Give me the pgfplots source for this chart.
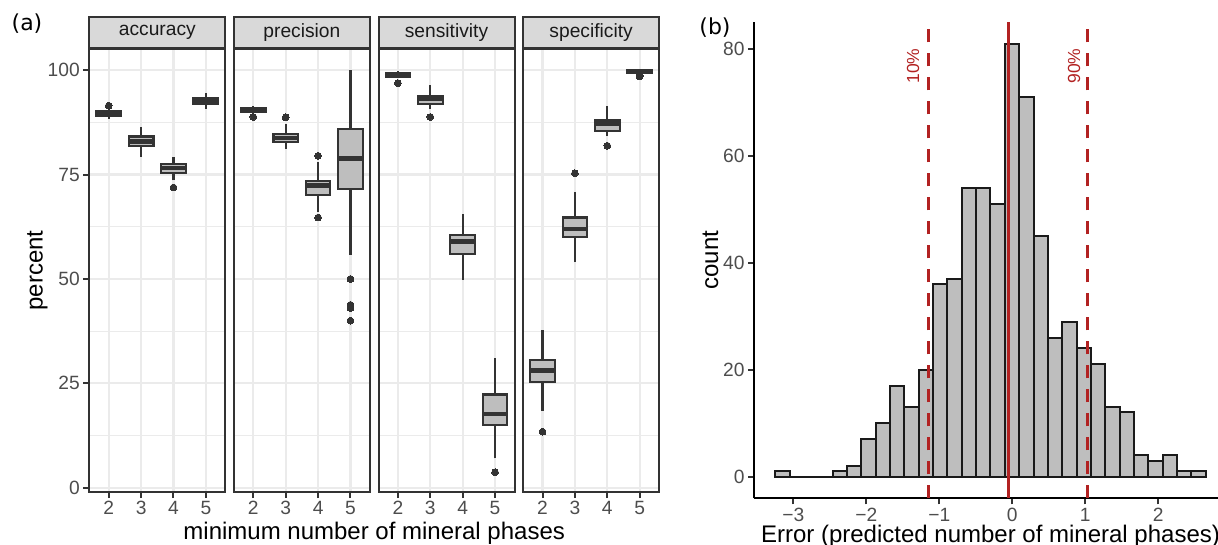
\documentclass[border=0pt]{standalone}
\usepackage{pgfplots}
\pgfplotsset{compat=1.18}
\usepackage{fontspec}
\setmainfont{Liberation Sans}
\newfontfamily\dejavu{DejaVu Sans}
\definecolor{gr10}{HTML}{1A1A1A}
\definecolor{gr20}{HTML}{333333}
\definecolor{gr30}{HTML}{4D4D4D}
\definecolor{gr85}{HTML}{D9D9D9}
\definecolor{gr92}{HTML}{EBEBEB}
\definecolor{boxfill}{HTML}{BEBEBE}
\definecolor{firebrick}{HTML}{B22222}
\pgfplotsset{
  facet/.style={
    anchor=north west, scale only axis, width=136pt, height=442.7pt,
    xmin=1.4, xmax=5.6, ymin=-1.03, ymax=105,
    xtick={2,3,4,5}, xticklabels={2,3,4,5},
    ytick={0,25,50,75,100}, yticklabels={0,25,50,75,100},
    minor ytick={12.5,37.5,62.5,87.5},
    grid=both,
    major grid style={draw=gr92, line width=2.2pt},
    minor grid style={draw=gr92, line width=1.1pt},
    minor tick length=0pt, major tick length=6pt, tick align=outside,
    xtick pos=bottom, ytick pos=left,
    axis line style={draw=gr20, line width=2pt},
    tick style={draw=gr20, line width=2pt},
    tick label style={font=\fontsize{19.2}{22}\selectfont, text=gr30},
    every axis title shift=0pt,
    title style={at={(0.5,1)}, anchor=south, fill=gr85, draw=gr20, line width=2pt,
      minimum width=136pt, minimum height=31pt, inner sep=0pt,
      font=\fontsize{19.2}{22}\selectfont, text=gr10},
  },
  outl/.style={only marks, mark=*, mark size=3.4pt, color=gr20, mark options={fill=gr20, draw=gr20, line width=0pt}},
}
% #1 position, #2 box left, #3 box right, #4 lower whisker, #5 q1, #6 median, #7 q3, #8 upper whisker
\newcommand{\bxp}[8]{%
  \addplot[gr20, line width=2.2pt, no marks] coordinates {(#1,#4) (#1,#5)};
  \addplot[gr20, line width=2.2pt, no marks] coordinates {(#1,#7) (#1,#8)};
  \addplot[draw=gr20, fill=boxfill, line width=2.2pt, no marks] coordinates {(#2,#5) (#3,#5) (#3,#7) (#2,#7)} -- cycle;
  \addplot[gr20, line width=4.4pt, no marks] coordinates {(#2,#6) (#3,#6)};
}
\begin{document}
\begin{tikzpicture}
\useasboundingbox (0pt,0pt) rectangle (1218pt,-545pt);
% ---------- (a) facets ----------
\begin{axis}[facet, at={(89.3pt,-49.3pt)}, title={accuracy}]
\bxp{2}{1.62}{2.38}{88.4}{89.1}{89.7}{90.2}{90.9}
\bxp{3}{2.62}{3.38}{79.3}{81.9}{82.9}{84.1}{86.3}
\bxp{4}{3.62}{4.38}{73.6}{75.3}{76.5}{77.6}{79.2}
\bxp{5}{4.62}{5.38}{90.7}{92.0}{92.7}{93.3}{94.6}
\addplot[outl] coordinates {(2,91.5) (4,71.9)};
\end{axis}
\begin{axis}[facet, at={(233.9pt,-49.3pt)}, title={precision}, yticklabels={}, ytick style={draw=none}]
\bxp{2}{1.62}{2.38}{89.6}{89.9}{90.4}{90.9}{91.5}
\bxp{3}{2.62}{3.38}{81.1}{82.8}{83.8}{84.8}{87.1}
\bxp{4}{3.62}{4.38}{66.1}{70.1}{72.4}{73.5}{77.9}
\bxp{5}{4.62}{5.38}{55.8}{71.5}{78.8}{85.9}{100}
\addplot[outl] coordinates {(2,88.8) (3,88.7) (4,79.5) (4,64.7) (5,50.0) (5,43.8) (5,43.0) (5,40.0)};
\end{axis}
\begin{axis}[facet, at={(378.5pt,-49.3pt)}, title={sensitivity}, yticklabels={}, ytick style={draw=none}]
\bxp{2}{1.62}{2.38}{98.2}{98.5}{98.9}{99.3}{99.7}
\bxp{3}{2.62}{3.38}{90.7}{91.9}{93.1}{93.9}{96.4}
\bxp{4}{3.62}{4.38}{49.8}{56.0}{59.0}{60.6}{65.6}
\bxp{5}{4.62}{5.38}{7.0}{15.0}{17.7}{22.3}{31.0}
\addplot[outl] coordinates {(2,96.9) (3,88.8) (5,3.7)};
\end{axis}
\begin{axis}[facet, at={(523.1pt,-49.3pt)}, title={specificity}, yticklabels={}, ytick style={draw=none}]
\bxp{2}{1.62}{2.38}{18.4}{25.3}{28.1}{30.6}{37.8}
\bxp{3}{2.62}{3.38}{54.0}{60.1}{61.9}{64.7}{70.9}
\bxp{4}{3.62}{4.38}{84.3}{85.5}{87.2}{88.1}{91.5}
\bxp{5}{4.62}{5.38}{99.1}{99.3}{99.5}{99.9}{100}
\addplot[outl] coordinates {(2,13.4) (3,75.3) (4,81.9) (5,98.5) (5,98.7)};
\end{axis}
\node[rotate=90, anchor=base, font=\fontsize{24}{28}\selectfont] at (42.5pt,-270.6pt) {percent};
\node[anchor=base, font=\fontsize{24}{28}\selectfont] at (374.2pt,-539pt) {minimum number of mineral phases};
\node[font=\dejavu\fontsize{22}{26}\selectfont] at (27pt,-23.5pt) {(a)};
% ---------- (b) histogram ----------
\begin{axis}[anchor=north west, at={(754pt,-22pt)}, scale only axis, width=472.9pt, height=476.3pt,
  xmin=-3.538, xmax=2.94, ymin=-4.05, ymax=85.05,
  axis x line=bottom, axis y line=left,
  axis line style={-, draw=black, line width=2pt},
  tick align=outside, major tick length=6pt,
  tick style={draw=gr20, line width=2pt},
  xtick={-3,-2,-1,0,1,2}, xticklabels={−3,−2,−1,0,1,2},
  ytick={0,20,40,60,80}, yticklabels={0,20,40,60,80},
  tick label style={font=\fontsize{19.2}{22}\selectfont, text=gr30},
  minor tick num=0]
\addplot[ybar interval, fill=boxfill, draw=gr10, line width=2pt] coordinates {
(-3.247,1) (-3.050,0) (-2.854,0) (-2.657,0) (-2.461,1) (-2.264,2) (-2.068,7) (-1.871,10)
(-1.675,17) (-1.478,13) (-1.282,20) (-1.085,36) (-0.889,37) (-0.692,54) (-0.496,54)
(-0.299,51) (-0.102,81) (0.094,71) (0.291,45) (0.487,26) (0.684,29) (0.880,24) (1.077,21)
(1.273,13) (1.470,12) (1.666,4) (1.863,3) (2.059,4) (2.256,1) (2.452,1) (2.649,1)};
\addplot[firebrick, line width=3.3pt, dash pattern=on 13pt off 11pt, no marks] coordinates {(-1.145,-4.05) (-1.145,85.05)};
\addplot[firebrick, line width=3.3pt, dash pattern=on 13pt off 11pt, no marks] coordinates {(1.027,-4.05) (1.027,85.05)};
\addplot[firebrick, line width=3.3pt, no marks] coordinates {(-0.055,-4.05) (-0.055,85.05)};
\node[rotate=90, text=firebrick, font=\fontsize{17.5}{20}\selectfont] at (axis cs:-1.36,76.8) {10\%};
\node[rotate=90, text=firebrick, font=\fontsize{17.5}{20}\selectfont] at (axis cs:0.845,76.8) {90\%};
\end{axis}
\node[rotate=90, anchor=base, font=\fontsize{24}{28}\selectfont] at (718pt,-260pt) {count};
\node[anchor=base, font=\fontsize{24}{28}\selectfont] at (990.5pt,-542pt) {Error (predicted number of mineral phases)};
\node[font=\dejavu\fontsize{22}{26}\selectfont] at (715pt,-27.5pt) {(b)};
\end{tikzpicture}
\end{document}
